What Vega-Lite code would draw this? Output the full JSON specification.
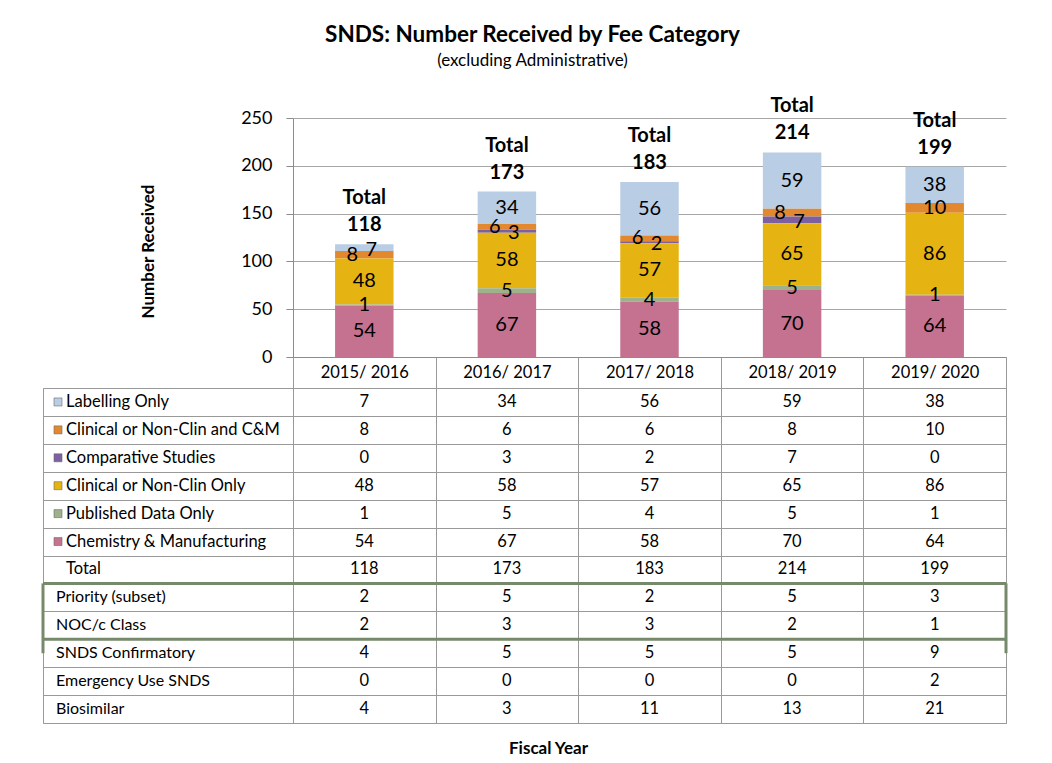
{
  "$schema": "https://vega.github.io/schema/vega-lite/v6.json",
  "padding": {"left": 41, "top": 23, "right": 10, "bottom": 10},
  "background": "white",
  "config": {
    "font": "Lato",
    "view": {"stroke": null},
    "axis": {"labelColor": "black", "titleColor": "black"}
  },
  "title": {
    "text": "SNDS: Number Received by Fee Category",
    "subtitle": "(excluding Administrative)",
    "fontSize": 22.5, "fontWeight": "bold", "color": "black",
    "subtitleFontSize": 17, "subtitleColor": "black", "subtitlePadding": 7,
    "offset": 27, "anchor": "middle", "dx": 8
  },
  "datasets": {
    "tbl": [
      {"year": "2015/ 2016", "category": "Labelling Only", "kind": "fee", "value": 7},
      {"year": "2016/ 2017", "category": "Labelling Only", "kind": "fee", "value": 34},
      {"year": "2017/ 2018", "category": "Labelling Only", "kind": "fee", "value": 56},
      {"year": "2018/ 2019", "category": "Labelling Only", "kind": "fee", "value": 59},
      {"year": "2019/ 2020", "category": "Labelling Only", "kind": "fee", "value": 38},
      {"year": "2015/ 2016", "category": "Clinical or Non-Clin and C&M", "kind": "fee", "value": 8},
      {"year": "2016/ 2017", "category": "Clinical or Non-Clin and C&M", "kind": "fee", "value": 6},
      {"year": "2017/ 2018", "category": "Clinical or Non-Clin and C&M", "kind": "fee", "value": 6},
      {"year": "2018/ 2019", "category": "Clinical or Non-Clin and C&M", "kind": "fee", "value": 8},
      {"year": "2019/ 2020", "category": "Clinical or Non-Clin and C&M", "kind": "fee", "value": 10},
      {"year": "2015/ 2016", "category": "Comparative Studies", "kind": "fee", "value": 0},
      {"year": "2016/ 2017", "category": "Comparative Studies", "kind": "fee", "value": 3},
      {"year": "2017/ 2018", "category": "Comparative Studies", "kind": "fee", "value": 2},
      {"year": "2018/ 2019", "category": "Comparative Studies", "kind": "fee", "value": 7},
      {"year": "2019/ 2020", "category": "Comparative Studies", "kind": "fee", "value": 0},
      {"year": "2015/ 2016", "category": "Clinical or Non-Clin Only", "kind": "fee", "value": 48},
      {"year": "2016/ 2017", "category": "Clinical or Non-Clin Only", "kind": "fee", "value": 58},
      {"year": "2017/ 2018", "category": "Clinical or Non-Clin Only", "kind": "fee", "value": 57},
      {"year": "2018/ 2019", "category": "Clinical or Non-Clin Only", "kind": "fee", "value": 65},
      {"year": "2019/ 2020", "category": "Clinical or Non-Clin Only", "kind": "fee", "value": 86},
      {"year": "2015/ 2016", "category": "Published Data Only", "kind": "fee", "value": 1},
      {"year": "2016/ 2017", "category": "Published Data Only", "kind": "fee", "value": 5},
      {"year": "2017/ 2018", "category": "Published Data Only", "kind": "fee", "value": 4},
      {"year": "2018/ 2019", "category": "Published Data Only", "kind": "fee", "value": 5},
      {"year": "2019/ 2020", "category": "Published Data Only", "kind": "fee", "value": 1},
      {"year": "2015/ 2016", "category": "Chemistry & Manufacturing", "kind": "fee", "value": 54},
      {"year": "2016/ 2017", "category": "Chemistry & Manufacturing", "kind": "fee", "value": 67},
      {"year": "2017/ 2018", "category": "Chemistry & Manufacturing", "kind": "fee", "value": 58},
      {"year": "2018/ 2019", "category": "Chemistry & Manufacturing", "kind": "fee", "value": 70},
      {"year": "2019/ 2020", "category": "Chemistry & Manufacturing", "kind": "fee", "value": 64},
      {"year": "2015/ 2016", "category": "Total", "kind": "total", "value": 118},
      {"year": "2016/ 2017", "category": "Total", "kind": "total", "value": 173},
      {"year": "2017/ 2018", "category": "Total", "kind": "total", "value": 183},
      {"year": "2018/ 2019", "category": "Total", "kind": "total", "value": 214},
      {"year": "2019/ 2020", "category": "Total", "kind": "total", "value": 199},
      {"year": "2015/ 2016", "category": "Priority (subset)", "kind": "other", "value": 2},
      {"year": "2016/ 2017", "category": "Priority (subset)", "kind": "other", "value": 5},
      {"year": "2017/ 2018", "category": "Priority (subset)", "kind": "other", "value": 2},
      {"year": "2018/ 2019", "category": "Priority (subset)", "kind": "other", "value": 5},
      {"year": "2019/ 2020", "category": "Priority (subset)", "kind": "other", "value": 3},
      {"year": "2015/ 2016", "category": "NOC/c Class", "kind": "other", "value": 2},
      {"year": "2016/ 2017", "category": "NOC/c Class", "kind": "other", "value": 3},
      {"year": "2017/ 2018", "category": "NOC/c Class", "kind": "other", "value": 3},
      {"year": "2018/ 2019", "category": "NOC/c Class", "kind": "other", "value": 2},
      {"year": "2019/ 2020", "category": "NOC/c Class", "kind": "other", "value": 1},
      {"year": "2015/ 2016", "category": "SNDS Confirmatory", "kind": "other", "value": 4},
      {"year": "2016/ 2017", "category": "SNDS Confirmatory", "kind": "other", "value": 5},
      {"year": "2017/ 2018", "category": "SNDS Confirmatory", "kind": "other", "value": 5},
      {"year": "2018/ 2019", "category": "SNDS Confirmatory", "kind": "other", "value": 5},
      {"year": "2019/ 2020", "category": "SNDS Confirmatory", "kind": "other", "value": 9},
      {"year": "2015/ 2016", "category": "Emergency Use SNDS", "kind": "other", "value": 0},
      {"year": "2016/ 2017", "category": "Emergency Use SNDS", "kind": "other", "value": 0},
      {"year": "2017/ 2018", "category": "Emergency Use SNDS", "kind": "other", "value": 0},
      {"year": "2018/ 2019", "category": "Emergency Use SNDS", "kind": "other", "value": 0},
      {"year": "2019/ 2020", "category": "Emergency Use SNDS", "kind": "other", "value": 2},
      {"year": "2015/ 2016", "category": "Biosimilar", "kind": "other", "value": 4},
      {"year": "2016/ 2017", "category": "Biosimilar", "kind": "other", "value": 3},
      {"year": "2017/ 2018", "category": "Biosimilar", "kind": "other", "value": 11},
      {"year": "2018/ 2019", "category": "Biosimilar", "kind": "other", "value": 13},
      {"year": "2019/ 2020", "category": "Biosimilar", "kind": "other", "value": 21}
    ]
  },
  "data": {"name": "tbl"},
  "columns": 2,
  "bounds": "flush",
  "spacing": {"row": 31, "column": 0},
  "concat": [
    {
      "width": 250, "height": 239,
      "data": {"values": []},
      "mark": "point",
      "encoding": {}
    },
    {
      "width": 713, "height": 239,
      "encoding": {
        "x": {
          "field": "year", "type": "nominal",
          "scale": {"domain": ["2015/ 2016", "2016/ 2017", "2017/ 2018", "2018/ 2019", "2019/ 2020"], "paddingInner": 0, "paddingOuter": 0},
          "axis": {
            "orient": "bottom", "title": null, "tickBand": "extent", "tickSize": 31, "tickColor": "#999999",
            "domainColor": "#8c8c8c", "labelFontSize": 16.5, "labelPadding": -24, "labelAngle": 0, "grid": false
          }
        }
      },
      "layer": [
        {
          "transform": [
            {"filter": "datum.kind === 'fee'"},
            {"calculate": "indexof(['Chemistry & Manufacturing','Published Data Only','Clinical or Non-Clin Only','Comparative Studies','Clinical or Non-Clin and C&M','Labelling Only'], datum.category)", "as": "ord"},
            {"stack": "value", "groupby": ["year"], "sort": [{"field": "ord", "order": "ascending"}], "as": ["v0", "v1"]},
            {"calculate": "(datum.v0 + datum.v1) / 2", "as": "mid"}
          ],
          "layer": [
            {
              "mark": {"type": "bar", "width": {"band": 0.41}},
              "encoding": {
                "y": {
                  "field": "v0", "type": "quantitative", "title": "Number Received",
                  "scale": {"domain": [0, 250], "nice": false},
                  "axis": {
                    "values": [0, 50, 100, 150, 200, 250], "grid": true, "gridColor": "#a6a6a6",
                    "domainColor": "#8c8c8c", "tickColor": "#8c8c8c", "tickSize": 7,
                    "labelFontSize": 18, "labelPadding": 14,
                    "titleFontSize": 17, "titleFontWeight": "bold", "titleX": -136, "titleY": 133
                  }
                },
                "y2": {"field": "v1"},
                "color": {
                  "field": "category", "type": "nominal", "legend": null,
                  "scale": {
                    "domain": ["Labelling Only", "Clinical or Non-Clin and C&M", "Comparative Studies", "Clinical or Non-Clin Only", "Published Data Only", "Chemistry & Manufacturing"],
                    "range": ["#b9cde4", "#e2892f", "#7d60a0", "#e5b412", "#9db28a", "#c4728f"]
                  }
                }
              }
            },
            {
              "transform": [{"filter": "datum.value > 0 && !(datum.category === 'Clinical or Non-Clin and C&M' && datum.value < 10) && datum.category !== 'Comparative Studies' && !(datum.category === 'Labelling Only' && datum.value < 10)"}],
              "mark": {"type": "text", "fontSize": 20, "baseline": "middle", "color": "black"},
              "encoding": {
                "y": {"field": "mid", "type": "quantitative", "title": "Number Received"},
                "text": {"field": "value", "type": "quantitative"}
              }
            },
            {
              "transform": [{"filter": "datum.value > 0 && datum.value < 10 && datum.category === 'Clinical or Non-Clin and C&M'"}],
              "mark": {"type": "text", "fontSize": 20, "baseline": "middle", "color": "black", "dx": -12},
              "encoding": {
                "y": {"field": "mid", "type": "quantitative", "title": "Number Received"},
                "text": {"field": "value", "type": "quantitative"}
              }
            },
            {
              "transform": [{"filter": "datum.value > 0 && (datum.category === 'Comparative Studies' || (datum.category === 'Labelling Only' && datum.value < 10))"}],
              "mark": {"type": "text", "fontSize": 20, "baseline": "middle", "color": "black", "dx": 7, "dy": 2},
              "encoding": {
                "y": {"field": "mid", "type": "quantitative", "title": "Number Received"},
                "text": {"field": "value", "type": "quantitative"}
              }
            }
          ]
        },
        {
          "transform": [{"filter": "datum.category === 'Total'"}],
          "layer": [
            {
              "mark": {"type": "text", "fontSize": 20, "fontWeight": "bold", "baseline": "middle", "color": "black", "dy": -46},
              "encoding": {
                "y": {"field": "value", "type": "quantitative", "title": "Number Received"},
                "text": {"value": "Total"}
              }
            },
            {
              "mark": {"type": "text", "fontSize": 20, "fontWeight": "bold", "baseline": "middle", "color": "black", "dy": -19},
              "encoding": {
                "y": {"field": "value", "type": "quantitative", "title": "Number Received"},
                "text": {"field": "value", "type": "quantitative"}
              }
            }
          ]
        }
      ]
    },
    {
      "width": 250, "height": 335,
      "view": {"stroke": "#999999"},
      "layer": [
        {
          "transform": [{"filter": "datum.year === '2015/ 2016' && datum.kind === 'fee'"}],
          "mark": {"type": "point", "shape": "square", "filled": true, "size": 64, "opacity": 1, "stroke": "#6d6d6d", "strokeWidth": 0.6},
          "encoding": {
            "x": {"datum": "label", "type": "nominal", "bandPosition": 0.06, "scale": {"domain": ["label"], "paddingInner": 0, "paddingOuter": 0}, "axis": null},
            "y": {
              "field": "category", "type": "nominal",
              "scale": {"domain": ["Labelling Only", "Clinical or Non-Clin and C&M", "Comparative Studies", "Clinical or Non-Clin Only", "Published Data Only", "Chemistry & Manufacturing", "Total", "Priority (subset)", "NOC/c Class", "SNDS Confirmatory", "Emergency Use SNDS", "Biosimilar"], "paddingInner": 0, "paddingOuter": 0},
              "axis": {"grid": true, "tickBand": "extent", "labels": false, "ticks": false, "domain": false, "title": null, "gridColor": "#999999"}
            },
            "color": {
              "field": "category", "type": "nominal", "legend": null,
              "scale": {
                "domain": ["Labelling Only", "Clinical or Non-Clin and C&M", "Comparative Studies", "Clinical or Non-Clin Only", "Published Data Only", "Chemistry & Manufacturing"],
                "range": ["#b9cde4", "#e2892f", "#7d60a0", "#e5b412", "#9db28a", "#c4728f"]
              }
            }
          }
        },
        {
          "transform": [{"filter": "datum.year === '2015/ 2016' && datum.kind !== 'other'"}],
          "mark": {"type": "text", "align": "left", "baseline": "middle", "fontSize": 16.5, "color": "black"},
          "encoding": {
            "x": {"datum": "label", "type": "nominal", "bandPosition": 0.092},
            "y": {"field": "category", "type": "nominal"},
            "text": {"field": "category", "type": "nominal"}
          }
        },
        {
          "transform": [{"filter": "datum.year === '2015/ 2016' && datum.kind === 'other'"}],
          "mark": {"type": "text", "align": "left", "baseline": "middle", "fontSize": 16, "color": "black"},
          "encoding": {
            "x": {"datum": "label", "type": "nominal", "bandPosition": 0.052},
            "y": {"field": "category", "type": "nominal"},
            "text": {"field": "category", "type": "nominal"}
          }
        },
        {
          "data": {"values": [{}]},
          "mark": {"type": "rule", "color": "#76896a", "strokeWidth": 3},
          "encoding": {"y": {"datum": "Priority (subset)", "type": "nominal", "bandPosition": 0}}
        },
        {
          "data": {"values": [{}]},
          "mark": {"type": "rule", "color": "#76896a", "strokeWidth": 3},
          "encoding": {"y": {"datum": "NOC/c Class", "type": "nominal", "bandPosition": 1}}
        },
        {
          "data": {"values": [{}]},
          "mark": {"type": "rule", "color": "#76896a", "strokeWidth": 3},
          "encoding": {
            "x": {"datum": "label", "type": "nominal", "bandPosition": 0},
            "y": {"datum": "Priority (subset)", "type": "nominal", "bandPosition": 0},
            "y2": {"datum": "SNDS Confirmatory"}
          }
        }
      ]
    },
    {
      "width": 713, "height": 335,
      "view": {"stroke": "#999999"},
      "layer": [
        {
          "mark": {"type": "text", "baseline": "middle", "fontSize": 16.5, "color": "black"},
          "encoding": {
            "x": {
              "field": "year", "type": "nominal",
              "scale": {"domain": ["2015/ 2016", "2016/ 2017", "2017/ 2018", "2018/ 2019", "2019/ 2020"], "paddingInner": 0, "paddingOuter": 0},
              "axis": {
                "orient": "bottom", "grid": true, "tickBand": "extent", "labels": false, "ticks": false, "domain": false,
                "gridColor": "#999999", "title": "Fiscal Year", "titleFontSize": 17, "titleFontWeight": "bold",
                "titlePadding": 17, "titleX": 255
              }
            },
            "y": {
              "field": "category", "type": "nominal",
              "scale": {"domain": ["Labelling Only", "Clinical or Non-Clin and C&M", "Comparative Studies", "Clinical or Non-Clin Only", "Published Data Only", "Chemistry & Manufacturing", "Total", "Priority (subset)", "NOC/c Class", "SNDS Confirmatory", "Emergency Use SNDS", "Biosimilar"], "paddingInner": 0, "paddingOuter": 0},
              "axis": {"grid": true, "tickBand": "extent", "labels": false, "ticks": false, "domain": false, "title": null, "gridColor": "#999999"}
            },
            "text": {"field": "value", "type": "quantitative"}
          }
        },
        {
          "data": {"values": [{}]},
          "mark": {"type": "rule", "color": "#76896a", "strokeWidth": 3},
          "encoding": {"y": {"datum": "Priority (subset)", "type": "nominal", "bandPosition": 0}}
        },
        {
          "data": {"values": [{}]},
          "mark": {"type": "rule", "color": "#76896a", "strokeWidth": 3},
          "encoding": {"y": {"datum": "NOC/c Class", "type": "nominal", "bandPosition": 1}}
        },
        {
          "data": {"values": [{}]},
          "mark": {"type": "rule", "color": "#76896a", "strokeWidth": 3},
          "encoding": {
            "x": {"datum": "2019/ 2020", "type": "nominal", "bandPosition": 1},
            "y": {"datum": "Priority (subset)", "type": "nominal", "bandPosition": 0},
            "y2": {"datum": "SNDS Confirmatory"}
          }
        }
      ]
    }
  ]
}
